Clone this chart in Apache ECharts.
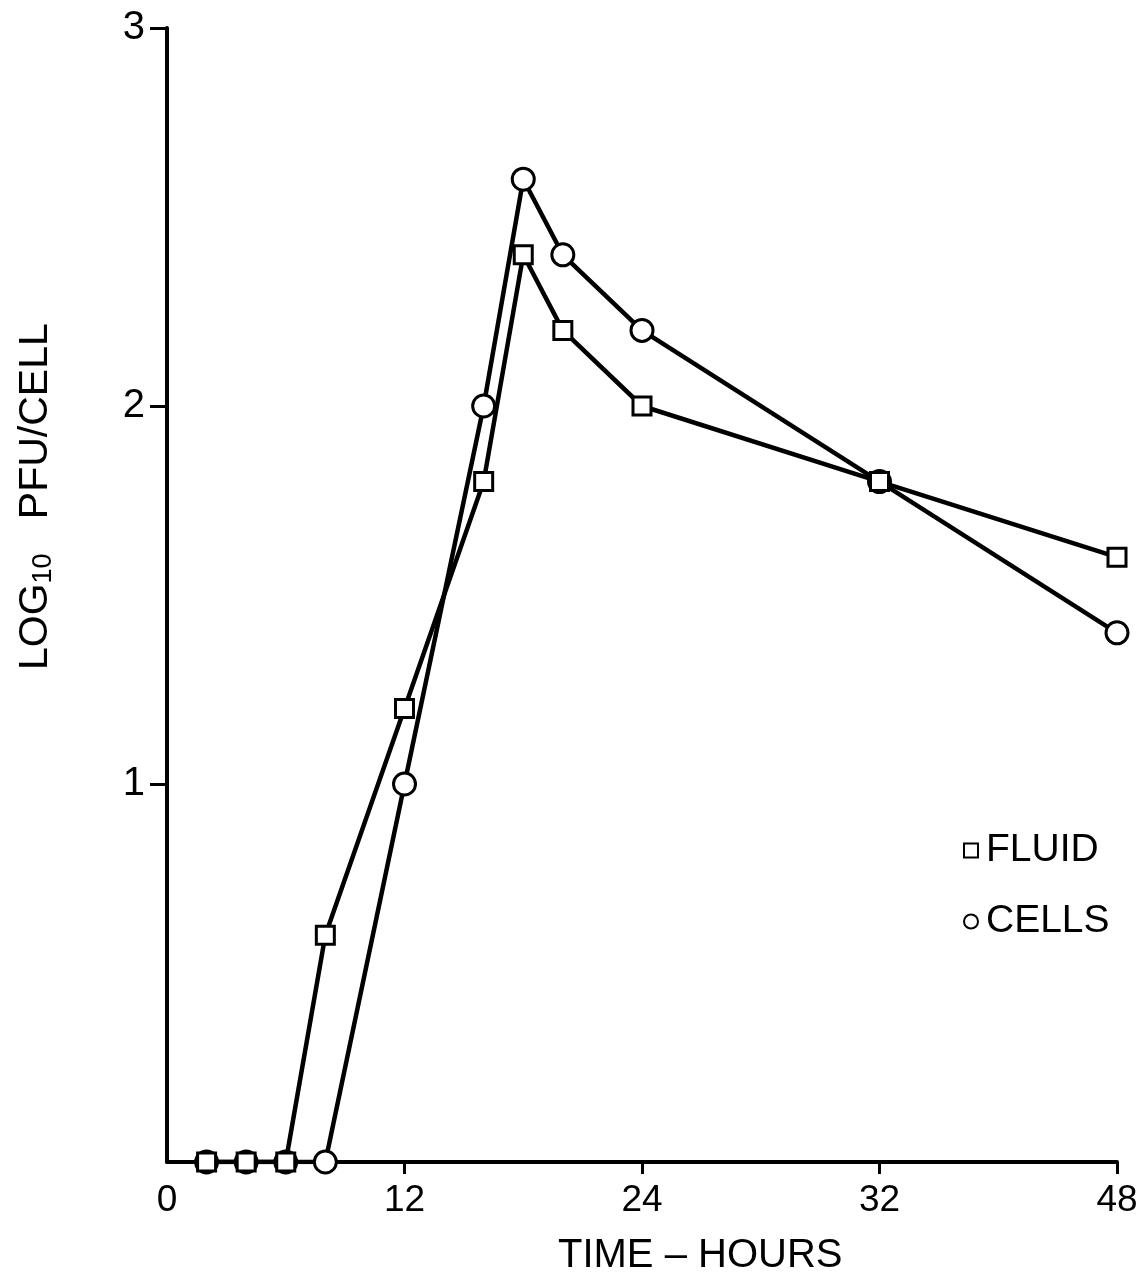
<!DOCTYPE html>
<html lang="en">
<head>
    <meta charset="UTF-8">
    <title>PFU per cell</title>
    <script type="text/javascript" src="https://cdn.jsdelivr.net/npm/echarts@6/dist/echarts.min.js"></script>
    <style>
        *{ margin:0; padding:0; }
        #main { width:1146px; height:1287px; background:#fff; }
    </style>
</head>
<body>
<div id="main"></div>
<script type="text/javascript">
    // hours after infection
    var fluidHours = [2, 4, 6, 8, 12, 16, 18, 20, 24, 32, 48];
    var fluidLog   = [0, 0, 0, 0.6, 1.2, 1.8, 2.4, 2.2, 2.0, 1.8, 1.6];
    var cellHours  = [2, 4, 6, 8, 12, 16, 18, 20, 24, 32, 48];
    var cellLog    = [0, 0, 0, 0, 1.0, 2.0, 2.6, 2.4, 2.2, 1.8, 1.4];
    var xTickHours  = [2, 4, 6, 8, 12, 24, 32, 48];
    var xLabelHours = [0, 12, 24, 32, 48];
    var yTicks = [1, 2, 3];

    // the printed time axis is not linear past 24 h: 24, 32 and 48 sit at equal spacing
    function axisPos(h) {
        if (h <= 24) return h;
        if (h <= 32) return 24 + (h - 24) * 1.5;
        return 36 + (h - 32) * 0.75;
    }
    function posToHour(p) {
        for (var i = 0; i < xLabelHours.length; i++) {
            if (Math.abs(axisPos(xLabelHours[i]) - p) < 1e-6) return xLabelHours[i];
        }
        return p;
    }
    function pairs(hours, vals) {
        return hours.map(function (h, i) { return [axisPos(h), vals[i]]; });
    }

    var font = 'Liberation Sans, Arial, sans-serif';
    var myChart = echarts.init(document.getElementById('main'));

    var option = {
        animation: false,
        backgroundColor: '#fff',
        grid: { left: 167, right: 29, top: 28, bottom: 125 },
        xAxis: {
            type: 'value',
            min: 0, max: 48,
            axisLine: { lineStyle: { color: '#000', width: 4 } },
            axisTick: {
                show: true, length: 12, inside: false,
                customValues: xTickHours.map(axisPos),
                lineStyle: { color: '#000', width: 3 }
            },
            axisLabel: {
                customValues: xLabelHours.map(axisPos),
                formatter: function (v) { return String(posToHour(v)); },
                color: '#000', fontSize: 37, fontFamily: font, margin: 20
            },
            splitLine: { show: false }
        },
        yAxis: {
            type: 'value',
            min: 0, max: 3,
            axisLine: { show: true, lineStyle: { color: '#000', width: 4 } },
            axisTick: {
                show: true, length: 17,
                customValues: yTicks,
                lineStyle: { color: '#000', width: 3 }
            },
            axisLabel: {
                customValues: yTicks,
                color: '#000', fontSize: 40, fontFamily: font, margin: 22
            },
            splitLine: { show: false }
        },
        legend: {
            orient: 'vertical',
            left: 958, top: 826,
            itemWidth: 14, itemHeight: 14,
            itemGap: 32,
            textStyle: { color: '#000', fontSize: 39, fontFamily: font, padding: [0, 0, 0, 3] },
            data: [
                { name: 'FLUID', icon: 'rect' },
                { name: 'CELLS', icon: 'circle' }
            ]
        },
        series: [
            {
                name: 'CELLS',
                type: 'line',
                data: pairs(cellHours, cellLog),
                symbol: 'circle',
                symbolSize: 22,
                lineStyle: { color: '#000', width: 4.5 },
                itemStyle: { color: '#fff', borderColor: '#000', borderWidth: 3 },
                z: 3
            },
            {
                name: 'FLUID',
                type: 'line',
                data: pairs(fluidHours, fluidLog),
                symbol: 'rect',
                symbolSize: 18,
                lineStyle: { color: '#000', width: 4.5 },
                itemStyle: { color: '#fff', borderColor: '#000', borderWidth: 3 },
                z: 4
            }
        ],
        graphic: [
            {
                type: 'text',
                left: 558, top: 1236,
                style: { text: 'TIME \u2013 HOURS', fill: '#000', font: '40px ' + font }
            },
            {
                type: 'text',
                x: 14, y: 670,
                rotation: Math.PI / 2,
                style: {
                    text: '{n|LOG}{s|10}{n|   PFU/CELL}',
                    fill: '#000',
                    rich: {
                        n: { fontSize: 41, fontFamily: font, fill: '#000' },
                        s: { fontSize: 27, fontFamily: font, fill: '#000', verticalAlign: 'bottom', padding: [16, 0, 0, 0] }
                    }
                }
            }
        ]
    };

    myChart.setOption(option);
</script>
</body>
</html>
